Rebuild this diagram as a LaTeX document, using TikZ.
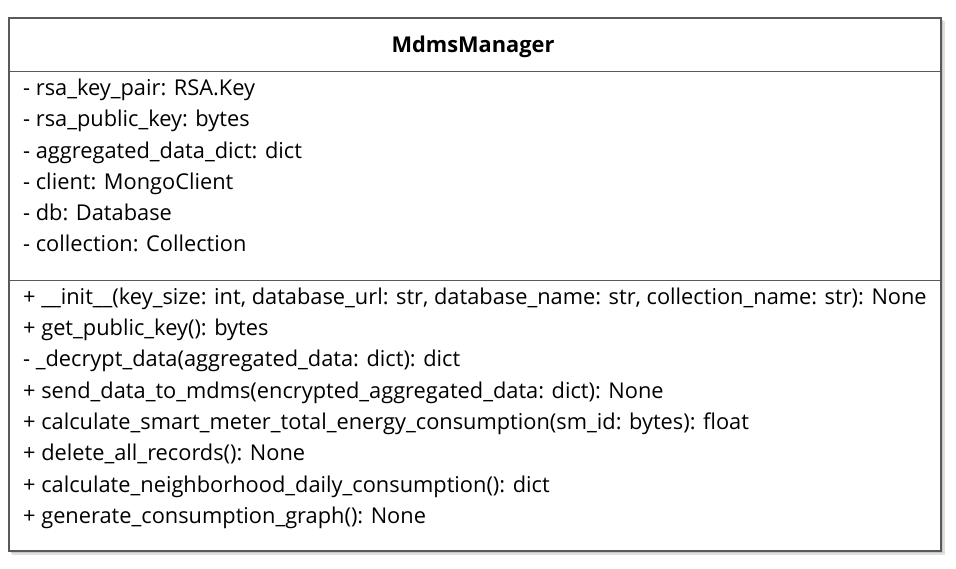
\documentclass[tikz,border=0pt]{standalone}
\usepackage{fontspec}
\setmainfont{Open Sans}
\begin{document}
\begin{tikzpicture}[x=1pt,y=-1pt,
  member/.style={anchor=base west,inner sep=0pt,font=\fontsize{21.8}{24}\selectfont,text=black},
  title/.style={anchor=base,inner sep=0pt,font=\fontsize{21.8}{24}\selectfont\bfseries,text=black},
  boxline/.style={draw=black!65,line width=1.4pt}]
\useasboundingbox (0,0) rectangle (956,568);
\fill[black!12] (12,21) rectangle (945,555);
\fill[black!22] (11,20) rectangle (943,553);
\node[fill=white,inner sep=0pt,minimum width=932,minimum height=533,anchor=north west] (box) at (9,18) {};
\draw[boxline] (9,18) rectangle (941,551);
\coordinate (s1l) at (9,71); \coordinate (s1r) at (941,71);
\coordinate (s2l) at (9,280); \coordinate (s2r) at (941,280);
\draw[boxline,line width=1pt] (s1l) -- (s1r);
\draw[boxline,line width=1pt] (s2l) -- (s2r);
\node[title] (t) at (473,52) {MdmsManager};
\node[member] (a1) at (23,95) {- rsa\_key\_pair: RSA.Key};
\node[member] (a2) at (23,126) {- rsa\_public\_key: bytes};
\node[member] (a3) at (23,158) {- aggregated\_data\_dict: dict};
\node[member] (a4) at (23,189) {- client: MongoClient};
\node[member] (a5) at (23,220) {- db: Database};
\node[member] (a6) at (23,251) {- collection: Collection};
\node[member] (m1) at (23,304) {+ \_\_init\_\_(key\_size: int, database\_url: str, database\_name: str, collection\_name: str): None};
\node[member] (m2) at (23,335) {+ get\_public\_key(): bytes};
\node[member] (m3) at (23,366) {- \_decrypt\_data(aggregated\_data: dict): dict};
\node[member] (m4) at (23,398) {+ send\_data\_to\_mdms(encrypted\_aggregated\_data: dict): None};
\node[member] (m5) at (23,429) {+ calculate\_smart\_meter\_total\_energy\_consumption(sm\_id: bytes): float};
\node[member] (m6) at (23,460) {+ delete\_all\_records(): None};
\node[member] (m7) at (23,492) {+ calculate\_neighborhood\_daily\_consumption(): dict};
\node[member] (m8) at (23,523) {+ generate\_consumption\_graph(): None};
\end{tikzpicture}
\end{document}
